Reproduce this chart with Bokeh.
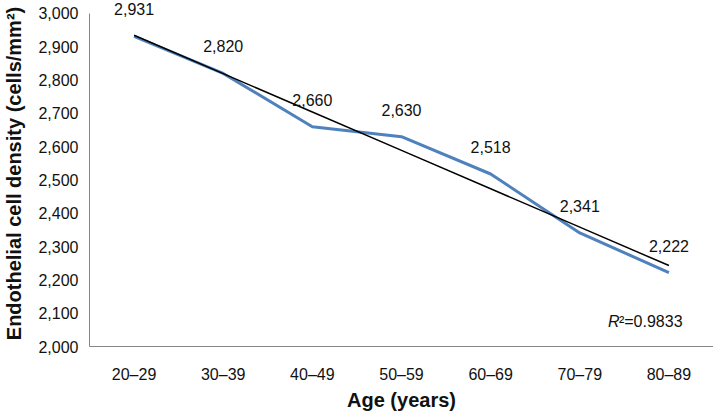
import numpy as np
from bokeh.plotting import figure
from bokeh.models import (ColumnDataSource, FactorRange, Range1d, FixedTicker,
                          NumeralTickFormatter)
from bokeh.core.properties import value
from bokeh.embed import file_html
from bokeh.resources import INLINE

# ---- data ----
age_groups = ["20–29", "30–39", "40–49", "50–59", "60–69", "70–79", "80–89"]
ecd = [2931, 2820, 2660, 2630, 2518, 2341, 2222]
ecd_labels = ["2,931", "2,820", "2,660", "2,630", "2,518", "2,341", "2,222"]
y_ticks = [2000, 2100, 2200, 2300, 2400, 2500, 2600, 2700, 2800, 2900, 3000]
r2_text = "0.9833"

# linear trendline (least squares over category index)
idx = np.arange(1, len(ecd) + 1)
slope, intercept = np.polyfit(idx, ecd, 1)
trend = list(slope * idx + intercept)

FONT = "Liberation Sans"

p = figure(
    x_range=FactorRange(factors=age_groups, range_padding=0),
    y_range=Range1d(2000, 3039),
    frame_width=624, frame_height=346,
    min_border_left=83, min_border_right=0,
    min_border_top=0, min_border_bottom=61,
    output_backend="svg", toolbar_location=None,
)
p.outline_line_color = None
p.xgrid.grid_line_color = None
p.ygrid.grid_line_color = None
p.background_fill_color = "white"
p.border_fill_color = "white"

src = ColumnDataSource(dict(x=age_groups, y=ecd, lab=ecd_labels, trend=trend))

p.line("x", "y", source=src, line_color="#4F81BD", line_width=3)
p.line("x", "trend", source=src, line_color="black", line_width=1.5)

p.text("x", "y", text="lab", source=src, y_offset=-27,
       text_align="center", text_baseline="middle",
       text_font=value(FONT), text_font_size="16px", text_color="#111111")

# R^2 annotation, anchored to the last category
r_src = ColumnDataSource(dict(x=[age_groups[-1]], y=[2074]))
p.text("x", "y", text=value("R"), source=r_src, x_offset=-61,
       text_align="left", text_baseline="middle", text_font=value(FONT),
       text_font_size="16px", text_font_style="italic", text_color="#111111")
p.text("x", "y", text=value("²=" + r2_text), source=r_src, x_offset=-50,
       text_align="left", text_baseline="middle", text_font=value(FONT),
       text_font_size="16px", text_color="#111111")

# axes
p.yaxis.ticker = FixedTicker(ticks=y_ticks)
p.yaxis.formatter = NumeralTickFormatter(format="0,0")
p.yaxis.bounds = (2000, 3000)
for ax in (p.xaxis, p.yaxis):
    ax.axis_line_color = "#868686"
    ax.axis_line_width = 1
    ax.major_tick_line_color = None
    ax.minor_tick_line_color = None
    ax.major_label_text_font = FONT
    ax.major_label_text_font_size = "16px"
    ax.major_label_text_color = "#111111"
    ax.axis_label_text_font = FONT
    ax.axis_label_text_font_size = "20px"
    ax.axis_label_text_font_style = "bold"
    ax.axis_label_text_color = "#111111"

p.yaxis.axis_label = "Endothelial cell density (cells/mm²)"
p.yaxis.major_label_standoff = 5
p.yaxis.axis_label_standoff = 10
p.xaxis.axis_label = "Age (years)"
p.xaxis.major_label_standoff = 13
p.xaxis.axis_label_standoff = 3

open("out.html", "w").write(file_html(p, INLINE))
